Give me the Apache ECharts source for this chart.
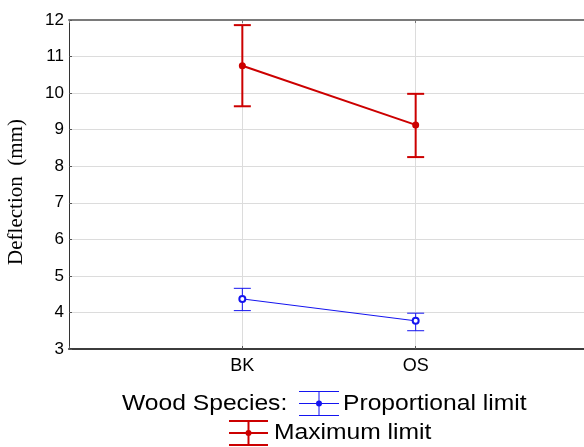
<!DOCTYPE html>
<html>
<head>
<meta charset="utf-8">
<script src="https://cdn.jsdelivr.net/npm/echarts@6/dist/echarts.min.js"></script>
<style>
  html, body { margin: 0; padding: 0; background: #fff; }
  #chart { width: 584px; height: 447px; }
</style>
</head>
<body>
<div id="chart"></div>
<script>
// Wood species on the x axis, deflection (mm) with error bars on the y axis
const categories = ['BK', 'OS'];
const yTicks = [3, 4, 5, 6, 7, 8, 9, 10, 11, 12];

// Proportional limit: mean and error-bar range
const propMean = [4.37, 3.77];
const propLow = [4.05, 3.50];
const propHigh = [4.66, 3.98];

// Maximum limit: mean and error-bar range
const maxMean = [10.75, 9.13];
const maxLow = [9.64, 8.25];
const maxHigh = [11.86, 9.98];

const RED = '#cc0000';
const BLUE = '#1414f0';
const SANS = '"Liberation Sans", Arial, sans-serif';

function errorBars(name, color, width, low, high) {
  return {
    type: 'custom',
    name: name + ' range',
    z: 2,
    silent: true,
    animation: false,
    data: categories.map((c, i) => [i + 1, low[i], high[i]]),
    encode: { x: 0, y: [1, 2] },
    renderItem(params, api) {
      const x = api.value(0);
      const lo = api.coord([x, api.value(1)]);
      const hi = api.coord([x, api.value(2)]);
      const cap = 8.5;
      const st = { stroke: color, lineWidth: width };
      return {
        type: 'group',
        children: [
          { type: 'line', shape: { x1: lo[0], y1: lo[1], x2: hi[0], y2: hi[1] }, style: st },
          { type: 'line', shape: { x1: hi[0] - cap, y1: hi[1], x2: hi[0] + cap, y2: hi[1] }, style: st },
          { type: 'line', shape: { x1: lo[0] - cap, y1: lo[1], x2: lo[0] + cap, y2: lo[1] }, style: st }
        ]
      };
    }
  };
}

// Legend marker: whiskers with a centre dot
function legendIcon(x0, x1, yTop, yBot, color, width) {
  const yMid = (yTop + yBot) / 2;
  const xMid = (x0 + x1) / 2;
  const st = { stroke: color, lineWidth: width };
  return [
    { type: 'line', shape: { x1: x0, y1: yTop, x2: x1, y2: yTop }, style: st },
    { type: 'line', shape: { x1: x0, y1: yMid, x2: x1, y2: yMid }, style: st },
    { type: 'line', shape: { x1: x0, y1: yBot, x2: x1, y2: yBot }, style: st },
    { type: 'line', shape: { x1: xMid, y1: yTop, x2: xMid, y2: yBot }, style: st },
    { type: 'circle', shape: { cx: xMid, cy: yMid, r: 3 }, style: { fill: color } }
  ];
}

function legendText(text, x, y) {
  return {
    type: 'text', x: x, y: y, scaleX: 1.12,
    style: { text: text, x: 0, y: 0, font: '22px ' + SANS, fill: '#000', verticalAlign: 'middle', align: 'left' }
  };
}

const chart = echarts.init(document.getElementById('chart'), null, { renderer: 'canvas' });

chart.setOption({
  animation: false,
  backgroundColor: '#fff',
  grid: { left: 69, top: 20, width: 520, height: 329, outerBoundsMode: 'none', containLabel: false },
  xAxis: [
    {
      type: 'value', min: 0, max: 3, interval: 1, position: 'bottom',
      axisLine: { show: true, onZero: false, lineStyle: { color: '#3c3c3c', width: 2 } },
      axisTick: { show: true, inside: true, length: 3, lineStyle: { color: '#555' } },
      axisLabel: {
        margin: 8, color: '#000', fontSize: 18, fontFamily: SANS,
        formatter: v => categories[v - 1] || ''
      },
      splitLine: { show: true, lineStyle: { color: '#dcdcdc', width: 1 } }
    },
    {
      type: 'value', min: 0, max: 3, interval: 1, position: 'top',
      axisLine: { show: true, onZero: false, lineStyle: { color: '#7a7a7a', width: 2 } },
      axisTick: { show: true, inside: true, length: 3, lineStyle: { color: '#777' } },
      axisLabel: { show: false },
      splitLine: { show: false }
    }
  ],
  yAxis: {
    type: 'value', min: 3, max: 12, interval: 1,
    axisLine: { show: true, onZero: false, lineStyle: { color: '#333', width: 1 } },
    axisTick: { show: true, inside: true, length: 3, lineStyle: { color: '#555' } },
    axisLabel: {
      margin: 5, color: '#000', fontSize: 17, fontFamily: SANS, padding: [6, 0, 0, 0],
      formatter: v => (yTicks.indexOf(v) >= 0 ? String(v) : '')
    },
    splitLine: { show: true, lineStyle: { color: '#dcdcdc', width: 1 } }
  },
  series: [
    errorBars('Proportional limit', BLUE, 1, propLow, propHigh),
    errorBars('Maximum limit', RED, 2, maxLow, maxHigh),
    {
      type: 'line', name: 'Proportional limit', z: 3,
      data: categories.map((c, i) => [i + 1, propMean[i]]),
      symbol: 'emptyCircle', symbolSize: 6,
      itemStyle: { color: BLUE, borderWidth: 2 },
      lineStyle: { color: BLUE, width: 1 }
    },
    {
      type: 'line', name: 'Maximum limit', z: 3,
      data: categories.map((c, i) => [i + 1, maxMean[i]]),
      symbol: 'circle', symbolSize: 7,
      itemStyle: { color: RED },
      lineStyle: { color: RED, width: 2 }
    }
  ],
  graphic: [
    {
      type: 'text', x: 16, y: 192, rotation: Math.PI / 2,
      style: {
        text: 'Deflection  (mm)', font: '21px "Liberation Serif", "Times New Roman", serif',
        fill: '#000', align: 'center', verticalAlign: 'middle'
      }
    },
    {
      type: 'group',
      children: [
        legendText('Wood Species:', 122, 404),
        ...legendIcon(299, 339, 391.5, 415.5, BLUE, 1),
        legendText('Proportional limit', 343, 404),
        ...legendIcon(229, 268, 421, 445, RED, 2),
        legendText('Maximum limit', 274, 433)
      ]
    }
  ]
});
</script>
</body>
</html>
